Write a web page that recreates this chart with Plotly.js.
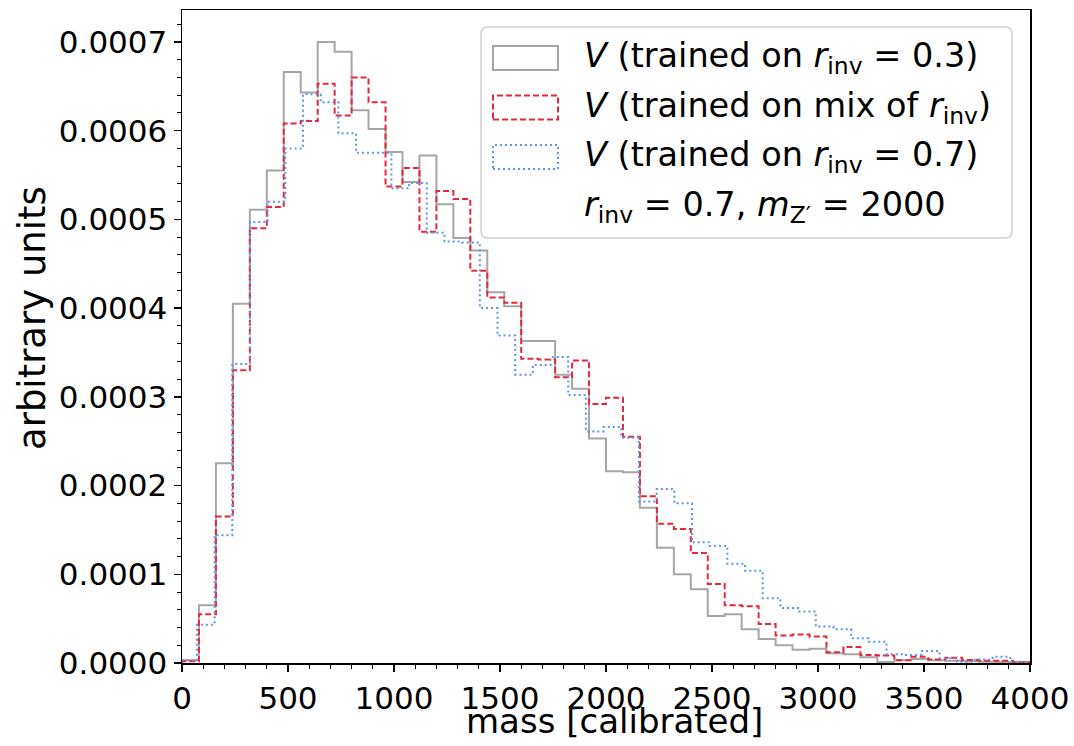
<!DOCTYPE html>
<html>
<head>
<meta charset="utf-8">
<script src="https://cdn.plot.ly/plotly-3.0.1.min.js"></script>
<style>html,body{margin:0;padding:0;background:#fff;}#chart{width:1074px;height:746px;}</style>
</head>
<body>
<div id="chart"></div>
<script>
// ---- data (bin contents, arbitrary units) ----
// r_inv = 0.3 and mix share bins: start 0, width 80
const binStartA = 0;
const binWidthA = 80;
// r_inv = 0.7 model: its own bins
const binStartB = -13;
const binWidthB = 83.4;

const valsGray = [0.03e-4,0.65e-4,2.25e-4,4.05e-4,5.11e-4,5.55e-4,6.66e-4,6.43e-4,7.00e-4,6.89e-4,
  6.23e-4,6.02e-4,5.76e-4,5.42e-4,5.72e-4,5.17e-4,4.79e-4,4.65e-4,4.18e-4,4.02e-4,
  3.63e-4,3.63e-4,3.25e-4,3.09e-4,2.53e-4,2.16e-4,2.15e-4,1.75e-4,1.30e-4,1.00e-4,
  0.83e-4,0.53e-4,0.55e-4,0.38e-4,0.27e-4,0.20e-4,0.15e-4,0.16e-4,0.11e-4,0.10e-4,
  0.064e-4,0.01e-4,0.03e-4,0.045e-4,0.03e-4,0.025e-4,0.02e-4,0.015e-4,0.01e-4,0.01e-4];

const valsRed = [0.02e-4,0.55e-4,1.65e-4,3.30e-4,4.90e-4,5.14e-4,6.08e-4,6.11e-4,6.53e-4,6.17e-4,
  6.60e-4,6.32e-4,5.37e-4,5.58e-4,4.86e-4,5.32e-4,5.23e-4,4.42e-4,4.12e-4,4.06e-4,
  3.43e-4,3.42e-4,3.22e-4,3.41e-4,2.92e-4,2.99e-4,2.55e-4,1.88e-4,1.57e-4,1.51e-4,
  1.24e-4,0.89e-4,0.65e-4,0.64e-4,0.44e-4,0.31e-4,0.32e-4,0.30e-4,0.12e-4,0.18e-4,
  0.09e-4,0.085e-4,0.03e-4,0.07e-4,0.04e-4,0.06e-4,0.034e-4,0.026e-4,0.026e-4,0.008e-4];

const valsBlue = [0.03e-4,0.43e-4,1.44e-4,3.37e-4,4.97e-4,5.20e-4,5.80e-4,6.41e-4,6.32e-4,5.97e-4,
  5.75e-4,5.75e-4,5.35e-4,5.41e-4,4.85e-4,4.75e-4,4.74e-4,4.00e-4,3.69e-4,3.25e-4,
  3.36e-4,3.45e-4,3.02e-4,2.61e-4,2.66e-4,2.54e-4,1.82e-4,1.96e-4,1.80e-4,1.36e-4,
  1.32e-4,1.12e-4,1.04e-4,0.73e-4,0.62e-4,0.58e-4,0.41e-4,0.38e-4,0.28e-4,0.24e-4,
  0.10e-4,0.09e-4,0.135e-4,0.053e-4,0.015e-4,0.04e-4,0.07e-4,0.015e-4,0.01e-4,0.01e-4];

const seriesNames = ['V (trained on r_inv = 0.3)', 'V (trained on mix of r_inv)', 'V (trained on r_inv = 0.7)'];
const legendLabels = [
  '<i>V</i> (trained on <i>r</i><sub>inv</sub> = 0.3)',
  '<i>V</i> (trained on mix of <i>r</i><sub>inv</sub>)',
  '<i>V</i> (trained on <i>r</i><sub>inv</sub> = 0.7)',
  '<i>r</i><sub>inv</sub> = 0.7, <i>m</i><sub>Z\u2032</sub> = 2000'
];
const xTickVals = [0,500,1000,1500,2000,2500,3000,3500,4000];
const yTickVals = [0,0.0001,0.0002,0.0003,0.0004,0.0005,0.0006,0.0007];
const xTitle = 'mass [calibrated]';
const yTitle = 'arbitrary units';

// ---- build step outlines (matplotlib histtype='step') ----
function stepXY(start, width, vals) {
  const n = vals.length;
  const x = [start], y = [0];
  for (let i = 0; i < n; i++) { x.push(start + i * width); y.push(vals[i]); }
  x.push(start + n * width); y.push(vals[n - 1]);
  x.push(start + n * width); y.push(0);
  return {x, y};
}

const colGray = '#a6a6a6', colRed = '#e6283c', colBlue = '#5b95ee';
const sG = stepXY(binStartA, binWidthA, valsGray);
const sR = stepXY(binStartA, binWidthA, valsRed);
const sB = stepXY(binStartB, binWidthB, valsBlue);
const lw = 2;
const traces = [
  {x: sG.x, y: sG.y, name: seriesNames[0], type: 'scatter', mode: 'lines', line: {shape: 'hv', color: colGray, width: lw}, showlegend: false, hoverinfo: 'skip'},
  {x: sR.x, y: sR.y, name: seriesNames[1], type: 'scatter', mode: 'lines', line: {shape: 'hv', color: colRed, width: lw, dash: '6px,3px'}, showlegend: false, hoverinfo: 'skip'},
  {x: sB.x, y: sB.y, name: seriesNames[2], type: 'scatter', mode: 'lines', line: {shape: 'hv', color: colBlue, width: lw, dash: '2px,3px'}, showlegend: false, hoverinfo: 'skip'}
];

// ---- geometry ----
const W = 1074, H = 746;
const L = 182, R = 1030, T = 10, B = 663;
const px2x = p => (p - L) / (R - L);
const py2y = p => (B - p) / (B - T);

// legend box (rounded)
const bx0 = 481, bx1 = 1012, by0 = 27, by1 = 238, rad = 7;
const rx = rad / (R - L), ry = rad / (B - T);
const X0 = px2x(bx0), X1 = px2x(bx1), Y0 = py2y(by1), Y1 = py2y(by0);
const boxPath = `M ${X0+rx},${Y1} L ${X1-rx},${Y1} Q ${X1},${Y1} ${X1},${Y1-ry} L ${X1},${Y0+ry} Q ${X1},${Y0} ${X1-rx},${Y0} L ${X0+rx},${Y0} Q ${X0},${Y0} ${X0},${Y0+ry} L ${X0},${Y1-ry} Q ${X0},${Y1} ${X0+rx},${Y1} Z`;

const rowY = [58, 107.5, 157, 206.5];
const handleCols = [colGray, colRed, colBlue];
const handleDash = ['solid', '6px,3px', '2px,3px'];
const shapes = [{type: 'path', xref: 'paper', yref: 'paper', path: boxPath, line: {color: '#d0d0d0', width: 1.5}, fillcolor: 'rgba(255,255,255,0.85)', layer: 'above'}];
for (let i = 0; i < 3; i++) {
  shapes.push({type: 'rect', xref: 'paper', yref: 'paper', x0: px2x(493), x1: px2x(558), y0: py2y(rowY[i] + 12), y1: py2y(rowY[i] - 12),
    line: {color: handleCols[i], width: lw, dash: handleDash[i]}, fillcolor: 'rgba(0,0,0,0)', layer: 'above'});
}
const font = 'DejaVu Sans, sans-serif';
const annotations = legendLabels.map((t, i) => ({
  text: t, xref: 'paper', yref: 'paper', x: px2x(582), y: py2y(rowY[i]), xanchor: 'left', yanchor: 'middle',
  showarrow: false, font: {family: font, size: 33.5, color: '#000'}
}));
// axis titles
annotations.push({text: xTitle, xref: 'paper', yref: 'paper', x: px2x(614), y: py2y(721), xanchor: 'center', yanchor: 'middle',
  showarrow: false, font: {family: font, size: 34, color: '#000'}});
annotations.push({text: yTitle, xref: 'paper', yref: 'paper', x: px2x(32), y: py2y(318), xanchor: 'center', yanchor: 'middle',
  textangle: -90, showarrow: false, font: {family: font, size: 37, color: '#000'}});

const layout = {
  width: W, height: H,
  margin: {l: L, r: W - R, t: T, b: H - B, pad: 0},
  paper_bgcolor: '#fff', plot_bgcolor: '#fff',
  font: {family: font, color: '#000', size: 31},
  xaxis: {
    range: [0, 4000], tickmode: 'array', tickvals: xTickVals, ticktext: xTickVals.map(String),
    ticks: 'outside', ticklen: 7, tickwidth: 1.5, tickcolor: '#000', ticklabelstandoff: 0,
    minor: {dtick: 100, tick0: 0, ticks: 'outside', ticklen: 4, tickwidth: 1, tickcolor: '#000'},
    showline: true, linecolor: '#000', linewidth: 1.5, mirror: true, showgrid: false, zeroline: false,
    tickfont: {family: font, size: 31}
  },
  yaxis: {
    range: [0, 0.000736], tickmode: 'array', tickvals: yTickVals, ticktext: yTickVals.map(v => v.toFixed(4)),
    ticks: 'outside', ticklen: 7, tickwidth: 1.5, tickcolor: '#000',
    minor: {dtick: 0.00002, tick0: 0, ticks: 'outside', ticklen: 4, tickwidth: 1, tickcolor: '#000'},
    showline: true, linecolor: '#000', linewidth: 1.5, mirror: true, showgrid: false, zeroline: false,
    tickfont: {family: font, size: 31}
  },
  shapes: shapes,
  annotations: annotations,
  showlegend: false
};

Plotly.newPlot('chart', traces, layout, {staticPlot: true, displayModeBar: false});
</script>
</body>
</html>
